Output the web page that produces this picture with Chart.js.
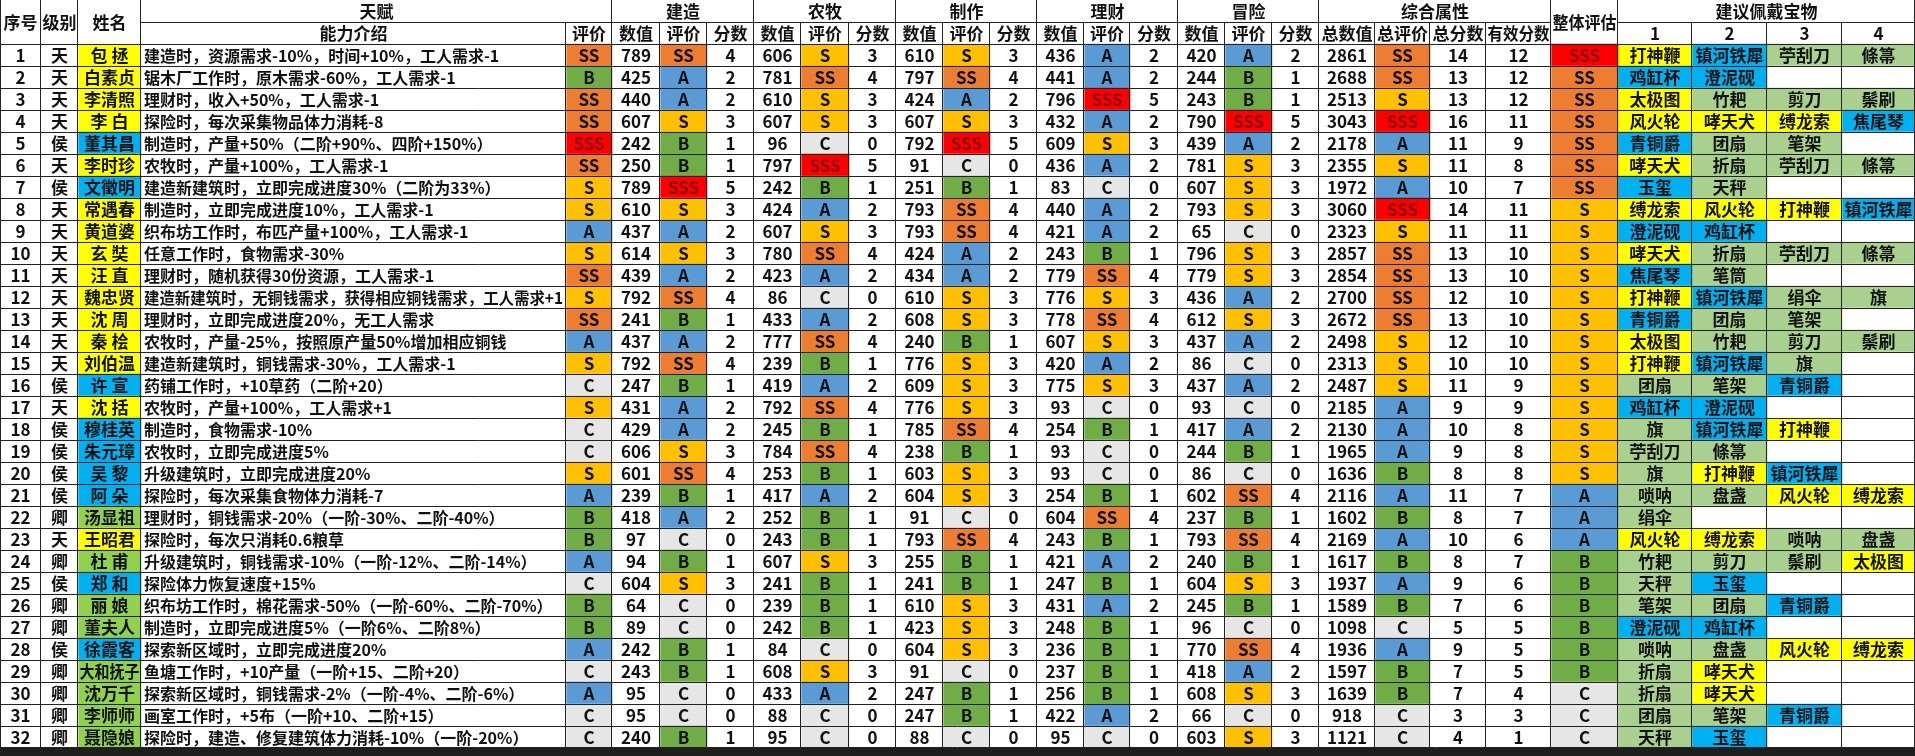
<!DOCTYPE html>
<html><head><meta charset="utf-8">
<script src="https://cdn.jsdelivr.net/npm/chart.js@4/dist/chart.umd.min.js"></script>
<style>
html,body{margin:0;padding:0;background:#1e1e1e;width:1915px;height:756px;overflow:hidden}
#wrap{position:absolute;left:0;top:0;width:1915px;height:748px;background:#fff}
</style></head><body>
<div id="wrap"><canvas id="c" width="1915" height="748"></canvas></div>
<script>
// ---------- DATA ----------
const ids = ["1","2","3","4","5","6","7","8","9","10","11","12","13","14","15","16","17","18","19","20","21","22","23","24","25","26","27","28","29","30","31","32"];
const levels = ["天","天","天","天","侯","天","侯","天","天","天","天","天","天","天","天","侯","天","侯","侯","侯","侯","卿","天","卿","侯","卿","卿","侯","卿","卿","卿","卿"];
const names = ["包 拯","白素贞","李清照","李 白","董其昌","李时珍","文徵明","常遇春","黄道婆","玄 奘","汪 直","魏忠贤","沈 周","秦 桧","刘伯温","许 宣","沈 括","穆桂英","朱元璋","吴 黎","阿 朵","汤显祖","王昭君","杜 甫","郑 和","丽 娘","董夫人","徐霞客","大和抚子","沈万千","李师师","聂隐娘"];
const talents = [
"建造时，资源需求-10%，时间+10%，工人需求-1",
"锯木厂工作时，原木需求-60%，工人需求-1",
"理财时，收入+50%，工人需求-1",
"探险时，每次采集物品体力消耗-8",
"制造时，产量+50%（二阶+90%、四阶+150%）",
"农牧时，产量+100%，工人需求-1",
"建造新建筑时，立即完成进度30%（二阶为33%）",
"制造时，立即完成进度10%，工人需求-1",
"织布坊工作时，布匹产量+100%，工人需求-1",
"任意工作时，食物需求-30%",
"理财时，随机获得30份资源，工人需求-1",
"建造新建筑时，无铜钱需求，获得相应铜钱需求，工人需求+1",
"理财时，立即完成进度20%，无工人需求",
"农牧时，产量-25%，按照原产量50%增加相应铜钱",
"建造新建筑时，铜钱需求-30%，工人需求-1",
"药铺工作时，+10草药（二阶+20）",
"农牧时，产量+100%，工人需求+1",
"制造时，食物需求-10%",
"农牧时，立即完成进度5%",
"升级建筑时，立即完成进度20%",
"探险时，每次采集食物体力消耗-7",
"理财时，铜钱需求-20%（一阶-30%、二阶-40%）",
"探险时，每次只消耗0.6粮草",
"升级建筑时，铜钱需求-10%（一阶-12%、二阶-14%）",
"探险体力恢复速度+15%",
"织布坊工作时，棉花需求-50%（一阶-60%、二阶-70%）",
"制造时，立即完成进度5%（一阶6%、二阶8%）",
"探索新区域时，立即完成进度20%",
"鱼塘工作时，+10产量（一阶+15、二阶+20）",
"探索新区域时，铜钱需求-2%（一阶-4%、二阶-6%）",
"画室工作时，+5布（一阶+10、二阶+15）",
"探险时，建造、修复建筑体力消耗-10%（一阶-20%）"];
const talentGrade = ["SS","B","SS","SS","SSS","SS","S","S","A","S","SS","S","SS","A","S","C","S","C","C","S","A","B","B","A","C","B","B","A","C","A","C","C"];
const buildVal = [789,425,440,607,242,250,789,610,437,614,439,792,241,437,792,247,431,429,606,601,239,418,97,94,604,64,89,242,243,95,95,240];
const buildGrade = ["SS","A","A","S","B","B","SSS","S","A","S","A","SS","B","A","SS","B","A","A","S","SS","B","A","C","B","S","C","C","B","B","C","C","B"];
const buildScore = [4,2,2,3,1,1,5,3,2,3,2,4,1,2,4,1,2,2,3,4,1,2,0,1,3,0,0,1,1,0,0,1];
const farmVal = [606,781,610,607,96,797,242,424,607,780,423,86,433,777,239,419,792,245,784,253,417,252,243,607,241,239,242,84,608,433,88,95];
const farmGrade = ["S","SS","S","S","C","SSS","B","A","S","SS","A","C","A","SS","B","A","SS","B","SS","B","A","B","B","S","B","B","B","C","S","A","C","C"];
const farmScore = [3,4,3,3,0,5,1,2,3,4,2,0,2,4,1,2,4,1,4,1,2,1,1,3,1,1,1,0,3,2,0,0];
const craftVal = [610,797,424,607,792,91,251,793,793,424,434,610,608,240,776,609,776,785,238,603,604,91,793,255,241,610,423,604,91,247,247,88];
const craftGrade = ["S","SS","A","S","SSS","C","B","SS","SS","A","A","S","S","B","S","S","S","SS","B","S","S","C","SS","B","B","S","S","S","C","B","B","C"];
const craftScore = [3,4,2,3,5,0,1,4,4,2,2,3,3,1,3,3,3,4,1,3,3,0,4,1,1,3,3,3,0,1,1,0];
const finVal = [436,441,796,432,609,436,83,440,421,243,779,776,778,607,420,775,93,254,93,93,254,604,243,421,247,431,248,236,237,256,422,95];
const finGrade = ["A","A","SSS","A","S","A","C","A","A","B","SS","S","SS","S","A","S","C","B","C","C","B","SS","B","A","B","A","B","B","B","B","A","C"];
const finScore = [2,2,5,2,3,2,0,2,2,1,4,3,4,3,2,3,0,1,0,0,1,4,1,2,1,2,1,1,1,1,2,0];
const advVal = [420,244,243,790,439,781,607,793,65,796,779,436,612,437,86,437,93,417,244,86,602,237,793,240,604,245,96,770,418,608,66,603];
const advGrade = ["A","B","B","SSS","A","S","S","S","C","S","S","A","S","A","C","A","C","A","B","C","SS","B","SS","B","S","B","C","SS","A","S","C","S"];
const advScore = [2,1,1,5,2,3,3,3,0,3,3,2,3,2,0,2,0,2,1,0,4,1,4,1,3,1,0,4,2,3,0,3];
const totalVal = [2861,2688,2513,3043,2178,2355,1972,3060,2323,2857,2854,2700,2672,2498,2313,2487,2185,2130,1965,1636,2116,1602,2169,1617,1937,1589,1098,1936,1597,1639,918,1121];
const totalGrade = ["SS","SS","S","SSS","A","S","A","SSS","S","SS","SS","SS","SS","S","S","S","A","A","A","B","A","B","A","B","A","B","C","A","B","B","C","C"];
const totalScore = [14,13,13,16,11,11,10,14,11,13,13,12,13,12,10,11,9,10,9,8,11,8,10,8,9,7,5,9,7,7,3,4];
const effScore = [12,12,12,11,9,8,7,11,11,10,10,10,10,10,10,9,9,8,8,8,7,7,6,7,6,6,5,5,5,4,3,1];
const overall = ["SSS","SS","SS","SS","SS","SS","SS","S","S","S","S","S","S","S","S","S","S","S","S","S","A","A","A","B","B","B","B","B","B","C","C","C"];
const treasure1 = ["打神鞭","鸡缸杯","太极图","风火轮","青铜爵","哮天犬","玉玺","缚龙索","澄泥砚","哮天犬","焦尾琴","打神鞭","青铜爵","太极图","打神鞭","团扇","鸡缸杯","旗","苧刮刀","旗","唢呐","绢伞","风火轮","竹耙","天秤","笔架","澄泥砚","唢呐","折扇","折扇","团扇","天秤"];
const treasure2 = ["镇河铁犀","澄泥砚","竹耙","哮天犬","团扇","折扇","天秤","风火轮","鸡缸杯","折扇","笔筒","镇河铁犀","团扇","竹耙","镇河铁犀","笔架","澄泥砚","镇河铁犀","條箒","打神鞭","盘盏","","缚龙索","剪刀","玉玺","团扇","鸡缸杯","盘盏","哮天犬","哮天犬","笔架","玉玺"];
const treasure3 = ["苧刮刀","","剪刀","缚龙索","笔架","苧刮刀","","打神鞭","","苧刮刀","","绢伞","笔架","剪刀","旗","青铜爵","","打神鞭","","镇河铁犀","风火轮","","唢呐","鬃刷","","青铜爵","","风火轮","","","青铜爵",""];
const treasure4 = ["條箒","","鬃刷","焦尾琴","","條箒","","镇河铁犀","","條箒","","旗","","鬃刷","","","","","","","缚龙索","","盘盏","太极图","","","","缚龙索","","","",""];
const yellowTreasures = ["打神鞭","太极图","风火轮","哮天犬","缚龙索"];
const blueTreasures = ["镇河铁犀","鸡缸杯","澄泥砚","焦尾琴","青铜爵","玉玺"];

// ---------- STYLE / LAYOUT ----------
const edges = [0,41,78,141,566,612,660,707,754,801,849,896,943,990,1037,1084,1130,1178,1225,1272,1319,1375,1430,1486,1551,1618,1692,1767,1842,1915];
const gradeFill = {SSS:"#FF0000",SS:"#ED7D31",S:"#FFC000",A:"#5B9BD5",B:"#70AD47",C:"#E7E6E6"};
const levelFill = {"天":"#FFFF00","侯":"#00B0F0","卿":"#92D050"};
const WHITE = "#FFFFFF";
const FONT = '"Noto Sans CJK SC", "Noto Sans", sans-serif';
const tFill = t => t==="" ? WHITE : yellowTreasures.includes(t) ? "#FFFF00" : blueTreasures.includes(t) ? "#00B0F0" : "#A9D08E";
const gF = g => gradeFill[g];
const cols = [
  {t: ids}, {t: levels}, {t: names, f: (v,i)=>levelFill[levels[i]]}, {t: talents, left: true}, {t: talentGrade, f: gF},
  {t: buildVal}, {t: buildGrade, f: gF}, {t: buildScore},
  {t: farmVal}, {t: farmGrade, f: gF}, {t: farmScore},
  {t: craftVal}, {t: craftGrade, f: gF}, {t: craftScore},
  {t: finVal}, {t: finGrade, f: gF}, {t: finScore},
  {t: advVal}, {t: advGrade, f: gF}, {t: advScore},
  {t: totalVal}, {t: totalGrade, f: gF}, {t: totalScore}, {t: effScore}, {t: overall, f: gF},
  {t: treasure1, f: tFill}, {t: treasure2, f: tFill}, {t: treasure3, f: tFill}, {t: treasure4, f: tFill}
];
const rowLabels = ["h1","h2"].concat(ids.map(s=>"r"+s));

const datasets = cols.map((c, ci) => ({
  data: [null, null].concat(c.t.map(() => [edges[ci], edges[ci+1]])),
  backgroundColor: [WHITE, WHITE].concat(c.t.map((v,i) => c.f ? c.f(v,i) : WHITE)),
  borderWidth: 0, barPercentage: 1, categoryPercentage: 1, grouped: false,
  texts: c.t, left: !!c.left
}));

const headers = [
  [0,1,'both','序号'],[1,2,'both','级别'],[2,3,'both','姓名'],
  [3,5,'h1','天赋'],[3,4,'h2','能力介绍'],[4,5,'h2','评价'],
  [5,8,'h1','建造'],[8,11,'h1','农牧'],[11,14,'h1','制作'],[14,17,'h1','理财'],[17,20,'h1','冒险'],
  [20,24,'h1','综合属性'],[20,21,'h2','总数值'],[21,22,'h2','总评价'],[22,23,'h2','总分数'],[23,24,'h2','有效分数'],
  [24,25,'both','整体评估'],[25,29,'h1','建议佩戴宝物'],
  [25,26,'h2','1'],[26,27,'h2','2'],[27,28,'h2','3'],[28,29,'h2','4']
];
for (let g=0; g<5; g++){ ['数值','评价','分数'].forEach((s,k)=>headers.push([5+g*3+k,6+g*3+k,'h2',s])); }

const tablePlugin = {
  id: 'table',
  afterDatasetsDraw(chart){
    const ctx = chart.ctx, xs = chart.scales.x, ys = chart.scales.y;
    const X = i => Math.round(xs.getPixelForValue(edges[i]));
    const half = (ys.getPixelForValue(1) - ys.getPixelForValue(0))/2;
    const top = r => ys.getPixelForValue(r) - half, bot = r => ys.getPixelForValue(r) + half;
    ctx.save();
    ctx.textBaseline = 'middle';
    chart.data.datasets.forEach((ds, di) => {
      const meta = chart.getDatasetMeta(di);
      meta.data.forEach((el, i) => {
        if (i < 2) return;
        const txt = String(ds.texts[i-2]);
        if (!txt) return;
        const p = el.getProps(['x','base','y'], true);
        const x0 = Math.min(p.x, p.base), x1 = Math.max(p.x, p.base);
        ctx.fillStyle = txt === 'SSS' ? '#8B0000' : '#111';
        if (ds.left){ ctx.font = 'bold 16px ' + FONT; ctx.textAlign='left'; ctx.fillText(txt, x0+3, p.y+1, x1-x0-6); }
        else { ctx.font = 'bold 17px ' + FONT; ctx.textAlign='center'; ctx.fillText(txt, (x0+x1)/2, p.y+1, x1-x0-3); }
      });
    });
    ctx.fillStyle = '#111'; ctx.font = 'bold 17px ' + FONT; ctx.textAlign='center';
    headers.forEach(([a,b,r,t]) => {
      const y0 = r==='h2' ? top(1) : top(0), y1 = r==='h1' ? bot(0) : bot(1);
      ctx.fillText(t, (X(a)+X(b))/2, (y0+y1)/2+1, X(b)-X(a)-3);
    });
    ctx.strokeStyle = '#222'; ctx.lineWidth = 1;
    const line = (x0,y0,x1,y1)=>{ctx.beginPath();ctx.moveTo(x0,y0);ctx.lineTo(x1,y1);ctx.stroke();};
    const nRows = rowLabels.length;
    for (let r=1; r<nRows; r++){
      const y = Math.round(top(r))+0.5;
      if (r===1){
        headers.filter(h=>h[2]==='h1').forEach(h=>line(X(h[0]),y,X(h[1]),y));
      } else line(0,y,1915,y);
    }
    line(0, Math.round(bot(nRows-1))-0.5, 1915, Math.round(bot(nRows-1))-0.5);
    const h1Edges = new Set([0,1,2,3,5,8,11,14,17,20,24,25,29]);
    for (let i=0; i<edges.length; i++){
      const x = X(i) + (i===0?0.5:-0.5);
      const yStart = h1Edges.has(i) ? top(0) : top(1);
      line(x, yStart, x, bot(nRows-1));
    }
    ctx.restore();
  }
};

new Chart(document.getElementById('c'), {
  type: 'bar',
  data: { labels: rowLabels, datasets },
  options: {
    indexAxis: 'y', responsive: false, animation: false, devicePixelRatio: 1,
    layout: { padding: 0 },
    plugins: { legend: {display:false}, tooltip: {enabled:false} },
    scales: {
      x: { type: 'linear', min: 0, max: 1915, display: false },
      y: { type: 'category', display: false, offset: true }
    }
  },
  plugins: [tablePlugin]
});
</script></body></html>
